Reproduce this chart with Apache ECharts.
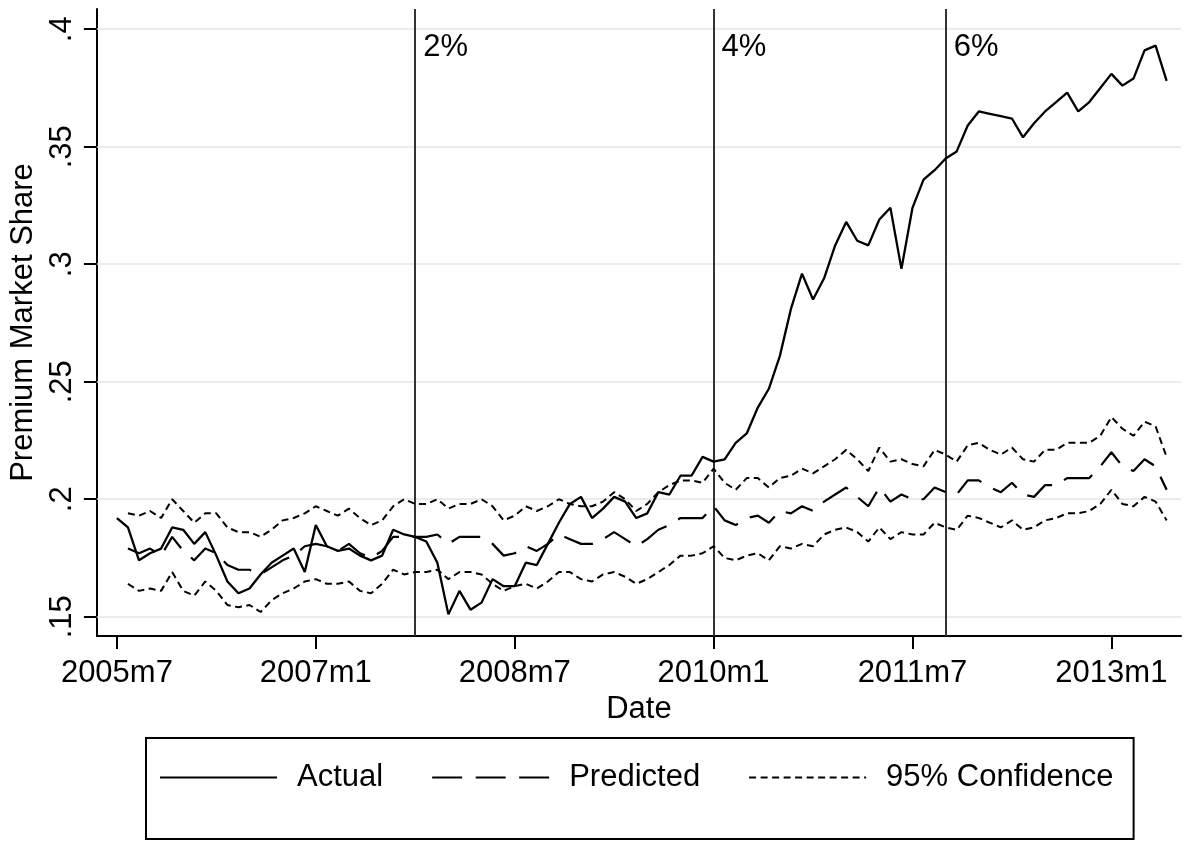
<!DOCTYPE html>
<html>
<head>
<meta charset="utf-8">
<script src="https://cdn.jsdelivr.net/npm/echarts@6/dist/echarts.min.js"></script>
<style>
html,body{margin:0;padding:0;background:#fff;}
#chart{width:1185px;height:842px;}
</style>
</head>
<body>
<div id="chart"></div>
<script>
// Month index 0 = 2005m7 ... 95 = 2013m6
const tickMonths = [0, 18, 36, 54, 72, 90];
const tickLabels = ['2005m7', '2007m1', '2008m7', '2010m1', '2011m7', '2013m1'];
const yTicks = [0.15, 0.2, 0.25, 0.3, 0.35, 0.4];
const policyMonths = [27, 54, 75];
const policyLabels = ['2%', '4%', '6%'];

const actual = [
  0.192, 0.188, 0.174, 0.177, 0.179, 0.188, 0.187, 0.181, 0.186, 0.176,
  0.165, 0.160, 0.162, 0.168, 0.173, 0.176, 0.179, 0.169, 0.189, 0.180,
  0.178, 0.179, 0.176, 0.174, 0.176, 0.187, 0.185, 0.184, 0.182, 0.173,
  0.151, 0.161, 0.153, 0.156, 0.166, 0.163, 0.163, 0.173, 0.172, 0.181,
  0.190, 0.198, 0.201, 0.192, 0.196, 0.201, 0.199, 0.192, 0.194, 0.203,
  0.202, 0.210, 0.210, 0.218, 0.216, 0.217, 0.224, 0.228, 0.239, 0.247,
  0.261, 0.281, 0.296, 0.285, 0.294, 0.308, 0.318, 0.310, 0.308, 0.319,
  0.324, 0.298, 0.324, 0.336, 0.340, 0.345, 0.348, 0.359, 0.365, 0.364,
  0.363, 0.362, 0.354, 0.360, 0.365, 0.369, 0.373, 0.365, 0.369, 0.375,
  0.381, 0.376, 0.379, 0.391, 0.393, 0.378
];
const predicted = [
  null, 0.179, 0.177, 0.179, 0.176, 0.184, 0.178, 0.174, 0.179, 0.177,
  0.172, 0.170, 0.170, 0.168, 0.171, 0.174, 0.176, 0.180, 0.181, 0.180,
  0.178, 0.181, 0.177, 0.175, 0.178, 0.184, 0.184, 0.184, 0.184, 0.185,
  0.181, 0.184, 0.184, 0.184, 0.181, 0.176, 0.177, 0.180, 0.178, 0.181,
  0.185, 0.183, 0.181, 0.181, 0.183, 0.186, 0.183, 0.180, 0.183, 0.187,
  0.189, 0.192, 0.192, 0.192, 0.197, 0.191, 0.189, 0.192, 0.193, 0.190,
  0.195, 0.194, 0.197, 0.195, 0.199, 0.202, 0.205, 0.201, 0.197, 0.205,
  0.199, 0.202, 0.200, 0.200, 0.205, 0.203, 0.202, 0.208, 0.208, 0.205,
  0.203, 0.207, 0.202, 0.201, 0.206, 0.206, 0.209, 0.209, 0.209, 0.214,
  0.220, 0.214, 0.212, 0.217, 0.214, 0.204
];
const upper95 = [
  null, 0.194, 0.193, 0.195, 0.192, 0.200, 0.195, 0.190, 0.194, 0.194,
  0.188, 0.186, 0.186, 0.184, 0.187, 0.191, 0.192, 0.194, 0.197, 0.195,
  0.193, 0.196, 0.192, 0.189, 0.191, 0.197, 0.200, 0.198, 0.198, 0.200,
  0.196, 0.198, 0.198, 0.200, 0.197, 0.191, 0.193, 0.197, 0.195, 0.197,
  0.200, 0.198, 0.197, 0.197, 0.199, 0.203, 0.200, 0.195, 0.198, 0.203,
  0.206, 0.208, 0.208, 0.207, 0.213, 0.207, 0.204, 0.209, 0.209, 0.205,
  0.209, 0.210, 0.213, 0.211, 0.214, 0.217, 0.221, 0.217, 0.212, 0.222,
  0.216, 0.217, 0.215, 0.214, 0.221, 0.219, 0.216, 0.223, 0.224, 0.221,
  0.219, 0.222, 0.217, 0.216, 0.221, 0.221, 0.224, 0.224, 0.224, 0.227,
  0.235, 0.230, 0.227, 0.233, 0.231, 0.218
];
const lower95 = [
  null, 0.164, 0.161, 0.162, 0.161, 0.169, 0.161, 0.159, 0.165, 0.161,
  0.155, 0.154, 0.155, 0.152, 0.157, 0.160, 0.162, 0.165, 0.166, 0.164,
  0.164, 0.165, 0.161, 0.160, 0.164, 0.170, 0.168, 0.169, 0.169, 0.170,
  0.166, 0.169, 0.169, 0.168, 0.164, 0.161, 0.163, 0.164, 0.162, 0.165,
  0.169, 0.169, 0.166, 0.165, 0.168, 0.169, 0.167, 0.164, 0.166, 0.169,
  0.172, 0.176, 0.176, 0.177, 0.180, 0.175, 0.174, 0.176, 0.177, 0.174,
  0.180, 0.179, 0.181, 0.180, 0.185, 0.187, 0.188, 0.186, 0.182, 0.188,
  0.183, 0.186, 0.185, 0.185, 0.190, 0.188, 0.187, 0.193, 0.192, 0.190,
  0.188, 0.191, 0.187, 0.188, 0.191, 0.192, 0.194, 0.194, 0.195, 0.198,
  0.204, 0.198, 0.197, 0.201, 0.199, 0.191
];

const FONT = "'Liberation Sans', Arial, Helvetica, sans-serif";
const FS = 31;
const toPairs = arr => arr.map((v, i) => [i, v]).filter(p => p[1] !== null);

const chart = echarts.init(document.getElementById('chart'), null, {renderer: 'canvas'});
const option = {
  animation: false,
  backgroundColor: '#fff',
  textStyle: {fontFamily: FONT, color: '#000'},
  grid: {left: 96, right: 4, top: 9, bottom: 206, containLabel: false},
  xAxis: {
    type: 'value', min: -1.81, max: 96.3,
    axisLine: {show: true, onZero: false, lineStyle: {color: '#000', width: 2}},
    axisTick: {show: true, length: 13, customValues: tickMonths, lineStyle: {color: '#000', width: 2}},
    axisLabel: {
      customValues: tickMonths, fontSize: FS, color: '#000', fontFamily: FONT, margin: 22,
      formatter: v => tickLabels[tickMonths.indexOf(v)]
    },
    splitLine: {show: false},
    name: 'Date', nameLocation: 'middle', nameGap: 55,
    nameTextStyle: {fontSize: FS, color: '#000', fontFamily: FONT}
  },
  yAxis: {
    type: 'value', min: 0.1418, max: 0.4086,
    axisLine: {show: true, onZero: false, lineStyle: {color: '#000', width: 2}},
    axisTick: {show: true, length: 13, customValues: yTicks, lineStyle: {color: '#000', width: 2}},
    axisLabel: {
      customValues: yTicks, rotate: 90, fontSize: FS, color: '#000', fontFamily: FONT, margin: 19,
      formatter: v => String(v).replace(/^0/, '')
    },
    splitLine: {show: false},
    name: 'Premium Market Share', nameLocation: 'middle', nameGap: 53,
    nameTextStyle: {fontSize: FS, color: '#000', fontFamily: FONT}
  },
  legend: {
    left: 146, top: 738, orient: 'horizontal',
    padding: [24, 20, 46, 13],
    borderColor: '#000', borderWidth: 2,
    itemWidth: 117, itemHeight: 14, itemGap: 48,
    itemStyle: {opacity: 0},
    textStyle: {fontSize: FS, color: '#000', fontFamily: FONT, padding: [0, 0, 0, 15]},
    data: ['Actual', 'Predicted', '95% Confidence']
  },
  series: [
    {
      name: 'Actual', type: 'line', data: toPairs(actual),
      symbol: 'none', showSymbol: false, z: 3,
      lineStyle: {color: '#000', width: 2.3, type: 'solid'},
      itemStyle: {color: '#000'},
      markLine: {
        silent: true, symbol: 'none', z: 1, animation: false,
        label: {show: false},
        lineStyle: {color: '#e5e5e5', width: 1.6, type: 'solid'},
        data: yTicks.map(v => ({yAxis: v}))
      }
    },
    {
      name: 'Predicted', type: 'line', data: toPairs(predicted),
      symbol: 'none', showSymbol: false, z: 3,
      lineStyle: {color: '#000', width: 2.2, type: [30, 13.5]},
      itemStyle: {color: '#000'},
      markLine: {
        silent: true, symbol: 'none', z: 2, animation: false,
        label: {show: false},
        lineStyle: {color: '#333', width: 2, type: 'solid'},
        data: policyMonths.map(m => ({xAxis: m}))
      }
    },
    {
      name: '95% Confidence', type: 'line', data: toPairs(upper95),
      symbol: 'none', showSymbol: false, z: 3,
      lineStyle: {color: '#000', width: 2, type: [7, 4.5]},
      itemStyle: {color: '#000'}
    },
    {
      name: '95% Confidence', type: 'line', data: toPairs(lower95),
      symbol: 'none', showSymbol: false, z: 3,
      lineStyle: {color: '#000', width: 2, type: [7, 4.5]},
      itemStyle: {color: '#000'}
    },
    {
      name: 'policy', type: 'scatter', symbolSize: 0, silent: true, z: 4,
      itemStyle: {opacity: 1, color: '#000'},
      data: policyMonths.map((m, i) => ({value: [m, yTicks[yTicks.length - 1]], name: policyLabels[i]})),
      label: {
        show: true, position: 'right', offset: [3, 18], opacity: 1,
        formatter: p => p.name, fontSize: FS, color: '#000', fontFamily: FONT
      }
    }
  ]
};
chart.setOption(option);
</script>
</body>
</html>
